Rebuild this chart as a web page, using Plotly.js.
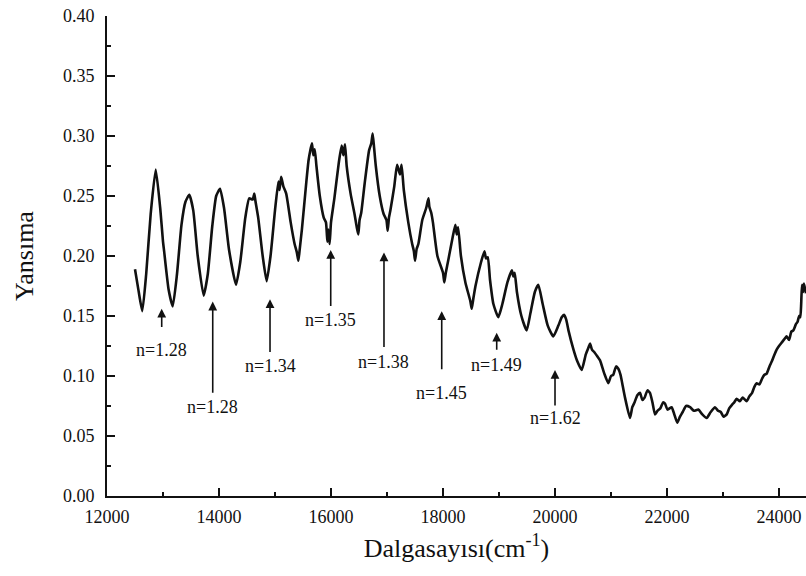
<!DOCTYPE html>
<html>
<head>
<meta charset="utf-8">
<script src="https://cdn.plot.ly/plotly-3.0.1.min.js"></script>
<style>html,body{margin:0;padding:0;background:#fff;overflow:hidden}</style>
</head>
<body>
<div id="chart" style="width:806px;height:576px"></div>
<script>
// Wavenumber (cm^-1)
const wavenumber = [12500,12560,12630,12700,12780,12870,12950,13000,13020,13100,13173,13250,13330,13400,13470,13540,13620,13726,13800,13880,13950,14018,14090,14180,14304,14380,14470,14540,14601,14630,14650,14700,14780,14851,14920,15000,15060,15080,15110,15149,15200,15280,15350,15390,15417,15440,15480,15560,15600,15630,15660,15685,15710,15740,15800,15870,15910,15935,15952,15975,16000,16060,16140,16190,16220,16250,16280,16350,16420,16460,16488,16510,16540,16600,16680,16720,16744,16770,16800,16870,16940,16990,17012,17035,17060,17130,17180,17232,17260,17300,17380,17450,17480,17500,17530,17560,17630,17700,17740,17756,17790,17820,17900,18000,18023,18050,18100,18170,18220,18244,18270,18320,18400,18490,18512,18540,18580,18680,18740,18768,18800,18840,18900,18988,19060,19150,19230,19256,19280,19320,19400,19494,19560,19640,19702,19780,19870,19970,20060,20120,20161,20200,20240,20330,20400,20476,20550,20600,20625,20660,20700,20760,20804,20880,20952,21000,21040,21090,21131,21170,21200,21250,21339,21380,21420,21470,21518,21560,21600,21650,21696,21740,21786,21830,21880,21930,21964,22010,22083,22130,22184,22230,22280,22340,22411,22480,22560,22630,22708,22780,22857,22910,22960,23010,23066,23110,23160,23200,23244,23300,23350,23423,23470,23520,23560,23601,23650,23700,23740,23780,23830,23870,23920,23958,24000,24050,24100,24137,24180,24220,24256,24300,24330,24360,24380,24396,24410,24430,24446,24482];
// Reflectance (Yansıma)
const reflectance = [0.189,0.172,0.154,0.185,0.235,0.272,0.240,0.212,0.204,0.172,0.158,0.185,0.226,0.245,0.251,0.238,0.200,0.167,0.185,0.225,0.250,0.256,0.240,0.205,0.176,0.195,0.232,0.248,0.247,0.252,0.246,0.232,0.200,0.179,0.200,0.238,0.262,0.255,0.266,0.258,0.252,0.228,0.210,0.203,0.196,0.205,0.222,0.262,0.280,0.288,0.294,0.284,0.289,0.275,0.250,0.232,0.228,0.212,0.222,0.210,0.228,0.248,0.278,0.292,0.284,0.293,0.275,0.252,0.235,0.224,0.218,0.230,0.236,0.260,0.288,0.294,0.302,0.290,0.275,0.250,0.235,0.230,0.221,0.232,0.238,0.258,0.276,0.268,0.276,0.255,0.228,0.210,0.204,0.196,0.206,0.210,0.230,0.240,0.248,0.241,0.236,0.228,0.200,0.186,0.178,0.186,0.198,0.215,0.226,0.218,0.224,0.200,0.178,0.162,0.156,0.164,0.175,0.195,0.204,0.198,0.199,0.180,0.160,0.149,0.160,0.178,0.188,0.183,0.186,0.170,0.150,0.138,0.152,0.170,0.176,0.160,0.142,0.133,0.142,0.149,0.151,0.147,0.138,0.122,0.112,0.105,0.118,0.124,0.127,0.122,0.120,0.116,0.113,0.102,0.094,0.100,0.101,0.108,0.106,0.101,0.094,0.082,0.065,0.074,0.078,0.084,0.086,0.080,0.082,0.088,0.086,0.078,0.068,0.071,0.073,0.078,0.077,0.072,0.074,0.068,0.061,0.066,0.070,0.075,0.074,0.071,0.072,0.068,0.065,0.070,0.074,0.071,0.070,0.066,0.068,0.073,0.076,0.078,0.081,0.079,0.082,0.079,0.083,0.086,0.091,0.094,0.093,0.098,0.101,0.102,0.108,0.112,0.118,0.122,0.125,0.128,0.131,0.133,0.130,0.137,0.138,0.143,0.145,0.150,0.149,0.160,0.176,0.170,0.177,0.169,0.172];

// Refractive-index markers: label, arrow x, arrow tip y, label y, gap (px) between label and arrow tail
const markerLabels = ["n=1.28","n=1.28","n=1.34","n=1.35","n=1.38","n=1.45","n=1.49","n=1.62"];
const markerX      = [12977,13888,14911,15995,16946,17977,18959,20000];
const markerTipY   = [0.156,0.162,0.164,0.205,0.203,0.154,0.136,0.105];
const labelY       = [0.122,0.074,0.108,0.147,0.112,0.086,0.109,0.065];
const labelGap     = [11,3,3,2,3,12,4,1];

const xTicks = [12000,14000,16000,18000,20000,22000,24000];

const font = "Liberation Serif";
const ink = "#111";

const annotations = markerLabels.map((label, i) => ({
  x: markerX[i], y: markerTipY[i], xref: "x", yref: "y",
  ax: markerX[i], ay: labelY[i], axref: "x", ayref: "y",
  text: label, showarrow: true, arrowhead: 2, arrowsize: 1.1, arrowwidth: 1.6,
  arrowcolor: ink, standoff: 0, startstandoff: labelGap[i],
  font: {family: font, size: 18, color: ink}
}));

const trace = {
  x: wavenumber, y: reflectance, type: "scatter", mode: "lines",
  line: {color: ink, width: 2.6, shape: "spline", smoothing: 0.5},
  hoverinfo: "x+y"
};

const layout = {
  width: 806, height: 576,
  margin: {l: 107, r: 0, t: 16, b: 80},
  paper_bgcolor: "#fff", plot_bgcolor: "#fff",
  showlegend: false,
  font: {family: font, color: ink, size: 18},
  xaxis: {
    range: [12000, 24482], tickvals: xTicks, ticktext: xTicks.map(String),
    ticks: "inside", ticklen: 8, tickwidth: 1.5, tickcolor: ink,
    minor: {dtick: 1000, tick0: 12000, ticks: "inside", ticklen: 4, tickwidth: 1.2, tickcolor: ink, showgrid: false},
    showline: true, linewidth: 2, linecolor: ink, mirror: false,
    showgrid: false, zeroline: false, ticklabelstandoff: 3,
    tickfont: {family: font, size: 18, color: ink},
    title: {text: "Dalgasayısı(cm<sup>-1</sup>)", font: {family: font, size: 26, color: ink}, standoff: 13}
  },
  yaxis: {
    range: [0, 0.40], dtick: 0.05, tick0: 0, tickformat: ".2f",
    ticks: "inside", ticklen: 8, tickwidth: 1.5, tickcolor: ink,
    minor: {dtick: 0.025, tick0: 0, ticks: "inside", ticklen: 4, tickwidth: 1.2, tickcolor: ink, showgrid: false},
    showline: true, linewidth: 2, linecolor: ink, mirror: false,
    showgrid: false, zeroline: false, ticklabelstandoff: 7,
    tickfont: {family: font, size: 18, color: ink},
    title: {text: "Yansıma", font: {family: font, size: 26, color: ink}, standoff: 22}
  },
  annotations: annotations
};

Plotly.newPlot("chart", [trace], layout, {displayModeBar: false, staticPlot: true});
</script>
</body>
</html>
